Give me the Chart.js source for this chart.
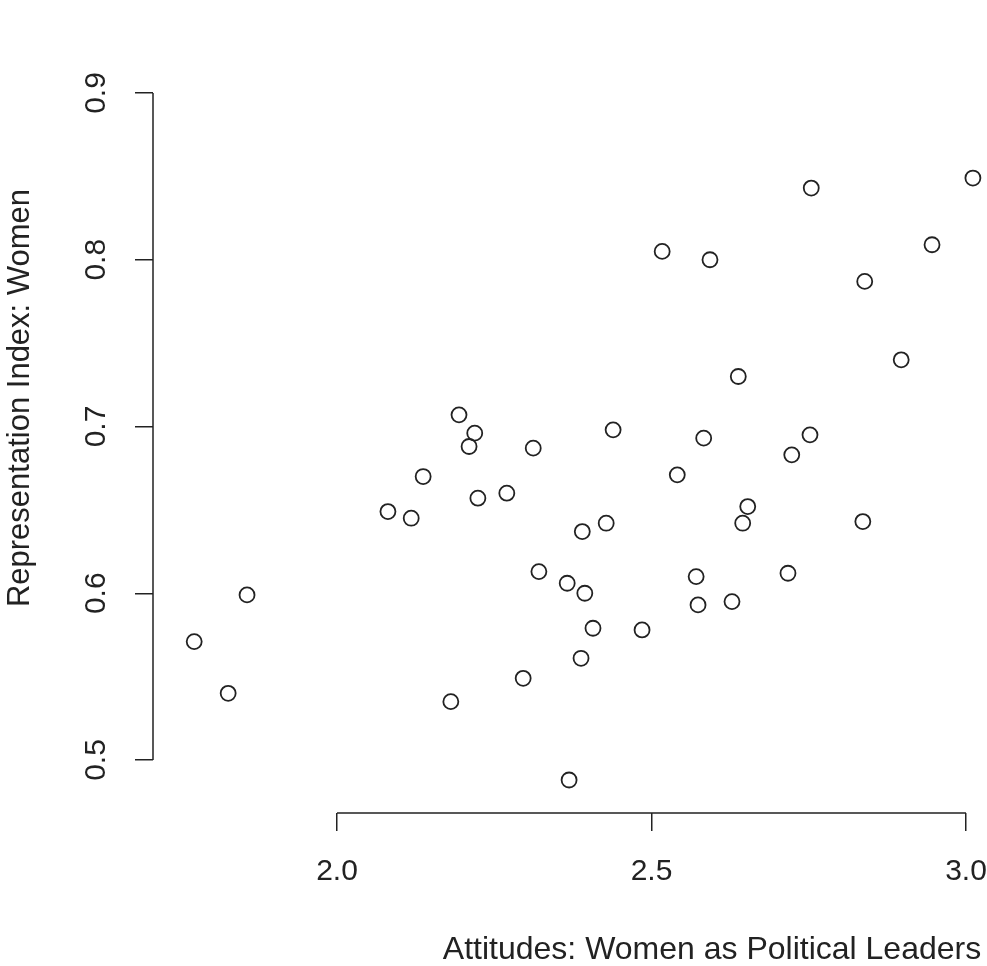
<!DOCTYPE html>
<html>
<head>
<meta charset="utf-8">
<script src="https://cdn.jsdelivr.net/npm/chart.js@4.4.1/dist/chart.umd.min.js"></script>
<style>
  html, body { margin: 0; padding: 0; background: #fff; }
  #wrap { width: 987px; height: 966px; }
</style>
</head>
<body>
<div id="wrap"><canvas id="scatter"></canvas></div>
<script>
// Attitudes: Women as Political Leaders (x) vs Representation Index: Women (y)
const attitudes = [
  1.773, 1.827, 1.857, 2.081, 2.118, 2.137, 2.181, 2.194, 2.210, 2.219,
  2.224, 2.270, 2.296, 2.312, 2.321, 2.366, 2.369, 2.388, 2.390, 2.394,
  2.407, 2.428, 2.439, 2.485, 2.517, 2.541, 2.571, 2.574, 2.583, 2.593,
  2.628, 2.638, 2.645, 2.653, 2.717, 2.723, 2.752, 2.754, 2.836, 2.839,
  2.897, 2.946, 3.011
];
const repIndex = [
  0.571, 0.540, 0.599, 0.649, 0.645, 0.670, 0.535, 0.707, 0.688, 0.696,
  0.657, 0.660, 0.549, 0.687, 0.613, 0.606, 0.488, 0.561, 0.637, 0.600,
  0.579, 0.642, 0.698, 0.578, 0.805, 0.671, 0.610, 0.593, 0.693, 0.800,
  0.595, 0.730, 0.642, 0.652, 0.612, 0.683, 0.695, 0.843, 0.643, 0.787,
  0.740, 0.809, 0.849
];

const xTicks = [2.0, 2.5, 3.0];
const yTicks = [0.5, 0.6, 0.7, 0.8, 0.9];

const xTitle = 'Attitudes: Women as Political Leaders';
const yTitle = 'Representation Index: Women';

const ink = '#222';
const fontFamily = '"Liberation Sans", Arial, Helvetica, sans-serif';

var points = [];
for (var i = 0; i < attitudes.length; i++) {
  points.push({ x: attitudes[i], y: repIndex[i] });
}

// R style axes: line only spans the first to last tick, titles drawn by hand
const rAxes = {
  id: 'rAxes',
  afterDraw(chart) {
    const ctx = chart.ctx;
    const xs = chart.scales.x;
    const ys = chart.scales.y;
    ctx.save();
    ctx.strokeStyle = ink;
    ctx.lineWidth = 1.5;
    ctx.beginPath();
    ctx.moveTo(xs.getPixelForValue(xTicks[0]), xs.top);
    ctx.lineTo(xs.getPixelForValue(xTicks[xTicks.length - 1]), xs.top);
    ctx.moveTo(ys.right, ys.getPixelForValue(yTicks[0]));
    ctx.lineTo(ys.right, ys.getPixelForValue(yTicks[yTicks.length - 1]));
    ctx.stroke();

    ctx.fillStyle = ink;
    ctx.textAlign = 'center';
    ctx.textBaseline = 'alphabetic';
    ctx.font = '32px ' + fontFamily;
    ctx.fillText(xTitle, 712, 959);

    ctx.font = '31px ' + fontFamily;
    ctx.translate(29, 398);
    ctx.rotate(-Math.PI / 2);
    ctx.fillText(yTitle, 0, 0);
    ctx.restore();
  }
};

const ctx = document.getElementById('scatter').getContext('2d');
new Chart(ctx, {
  type: 'scatter',
  data: {
    datasets: [{
      data: points,
      pointStyle: 'circle',
      pointRadius: 7.5,
      pointHoverRadius: 7.5,
      pointBorderWidth: 1.8,
      pointBorderColor: ink,
      pointBackgroundColor: 'rgba(0,0,0,0)'
    }]
  },
  options: {
    responsive: true,
    maintainAspectRatio: false,
    animation: false,
    layout: { padding: 0, autoPadding: false },
    plugins: {
      legend: { display: false },
      tooltip: { enabled: false }
    },
    scales: {
      x: {
        type: 'linear',
        min: 1.7075,
        max: 3.0334,
        afterBuildTicks: function(s) { s.ticks = xTicks.map(v => ({ value: v })); },
        afterFit: function(s) { s.height = 153; s.paddingLeft = 0; s.paddingRight = 0; },
        border: { display: false },
        grid: { drawOnChartArea: false, drawTicks: true, tickLength: 18, color: ink, lineWidth: 1.5 },
        ticks: {
          color: ink,
          font: { family: fontFamily, size: 30 },
          padding: 23,
          minRotation: 0,
          maxRotation: 0,
          callback: v => v.toFixed(1)
        }
      },
      y: {
        type: 'linear',
        min: 0.46822,
        max: 0.95577,
        afterBuildTicks: function(s) { s.ticks = yTicks.map(v => ({ value: v })); },
        afterFit: function(s) { s.width = 153; s.paddingTop = 0; s.paddingBottom = 0; },
        border: { display: false },
        grid: { drawOnChartArea: false, drawTicks: true, tickLength: 18, color: ink, lineWidth: 1.5 },
        ticks: {
          color: ink,
          font: { family: fontFamily, size: 30 },
          padding: 17,
          crossAlign: 'center',
          minRotation: 90,
          maxRotation: 90,
          callback: v => v.toFixed(1)
        }
      }
    }
  },
  plugins: [rAxes]
});
</script>
</body>
</html>
